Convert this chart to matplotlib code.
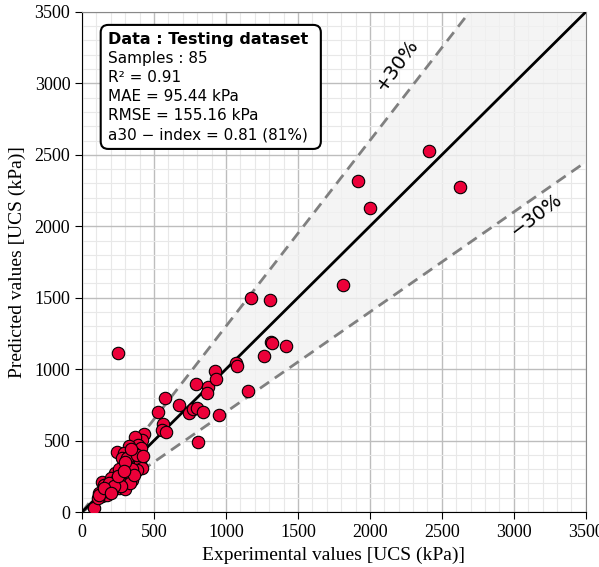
import numpy as np
import matplotlib.pyplot as plt
from matplotlib.ticker import MultipleLocator
from matplotlib.patches import FancyBboxPatch

# measured vs predicted UCS (kPa), testing set
exp_vals = [2412, 2625, 1919, 2002, 1815, 1174, 1306, 1310, 1320, 1417,
            1264, 1069, 1079, 252, 1155, 954, 808,
            576, 530, 676, 745, 769, 796, 838, 792, 877, 870,
            924, 931, 565, 557, 583, 431, 414, 368, 391,
            81, 412, 243, 324, 290, 359, 278, 335, 394, 405,
            417, 382, 231, 282, 347, 296, 324, 139, 150, 226,
            255, 301, 208, 181, 116, 139, 174, 111,
            300, 260, 350, 310, 200, 240, 330, 360, 160, 190,
            120, 270, 220, 380, 340, 300, 150, 250, 290, 420, 200]
pred_vals = [2529, 2277, 2316, 2125, 1588, 1495, 1484, 1190, 1182, 1162,
             1094, 1045, 1024, 1111, 849, 677, 492,
             800, 698, 747, 695, 719, 730, 702, 894, 877, 830,
             989, 929, 614, 574, 562, 546, 504, 527, 469,
             26, 446, 422, 462, 411, 411, 376, 345, 369, 341,
             306, 294, 271, 259, 224, 219, 271, 212, 189, 201,
             166, 159, 154, 166, 131, 112, 119, 96,
             320, 300, 300, 380, 240, 230, 200, 260, 150, 200,
             120, 180, 180, 400, 440, 350, 170, 250, 290, 390, 130]

lim = 3500
title = "Data : Testing dataset"
stats = ["Samples : 85", "R² = 0.91", "MAE = 95.44 kPa",
         "RMSE = 155.16 kPa", "a30 − index = 0.81 (81%)"]

fig = plt.figure(figsize=(5.99, 5.67), dpi=100)
ax = fig.add_axes([0.137, 0.097, 0.841, 0.882])

xs = np.array([0, lim])
ax.fill_between(xs, 0.7 * xs, 1.3 * xs, color="#f2f2f2", alpha=0.8, zorder=1)
ax.plot(xs, 1.3 * xs, ls=(0, (4, 2.5)), color="#808080", lw=2, zorder=2)
ax.plot(xs, 0.7 * xs, ls=(0, (4, 2.5)), color="#808080", lw=2, zorder=2)
ax.plot(xs, xs, color="black", lw=2, zorder=3)

ax.scatter(exp_vals, pred_vals, s=80, c="#ec0039", edgecolors="black",
           linewidths=0.8, zorder=4)

ax.text(2190, 3130, "+30%", rotation=54, fontsize=14, ha="center", va="center")
ax.text(3160, 2080, "−30%", rotation=37, fontsize=14, ha="center", va="center")

ax.set_xlim(0, lim)
ax.set_ylim(0, lim)
ax.xaxis.set_major_locator(MultipleLocator(500))
ax.yaxis.set_major_locator(MultipleLocator(500))
ax.xaxis.set_minor_locator(MultipleLocator(100))
ax.yaxis.set_minor_locator(MultipleLocator(100))
ax.grid(which="major", color="#bdbdbd", lw=1, zorder=0)
ax.grid(which="minor", color="#e8e8e8", lw=0.8, zorder=0)
ax.set_axisbelow(True)
ax.tick_params(which="minor", length=0)
ax.tick_params(which="major", length=5, labelsize=13)
for lab in ax.get_xticklabels() + ax.get_yticklabels():
    lab.set_family("Liberation Serif")
for side in ["top", "right"]:
    ax.spines[side].set_color("#888888")

ax.set_xlabel("Experimental values [UCS (kPa)]", family="Liberation Serif",
              fontsize=14, labelpad=4)
ax.set_ylabel("Predicted values [UCS (kPa)]", family="Liberation Serif",
              fontsize=14, labelpad=6)

# stats box, one line at a time
x0, y0, step = 0.052, 0.944, 0.038
ax.text(x0, y0, title, transform=ax.transAxes, fontsize=11.5,
        fontweight="bold", va="center", ha="left", zorder=6)
for i, line in enumerate(stats, start=1):
    ax.text(x0, y0 - i * step, line, transform=ax.transAxes, fontsize=11,
            va="center", ha="left", zorder=6)
box = FancyBboxPatch((0.037, 0.726), 0.437, 0.248, transform=ax.transAxes,
                     boxstyle="round,pad=0,rounding_size=0.015",
                     facecolor="white", edgecolor="black", lw=1.5, zorder=5)
ax.add_patch(box)

fig.savefig("out.png", dpi=100)
